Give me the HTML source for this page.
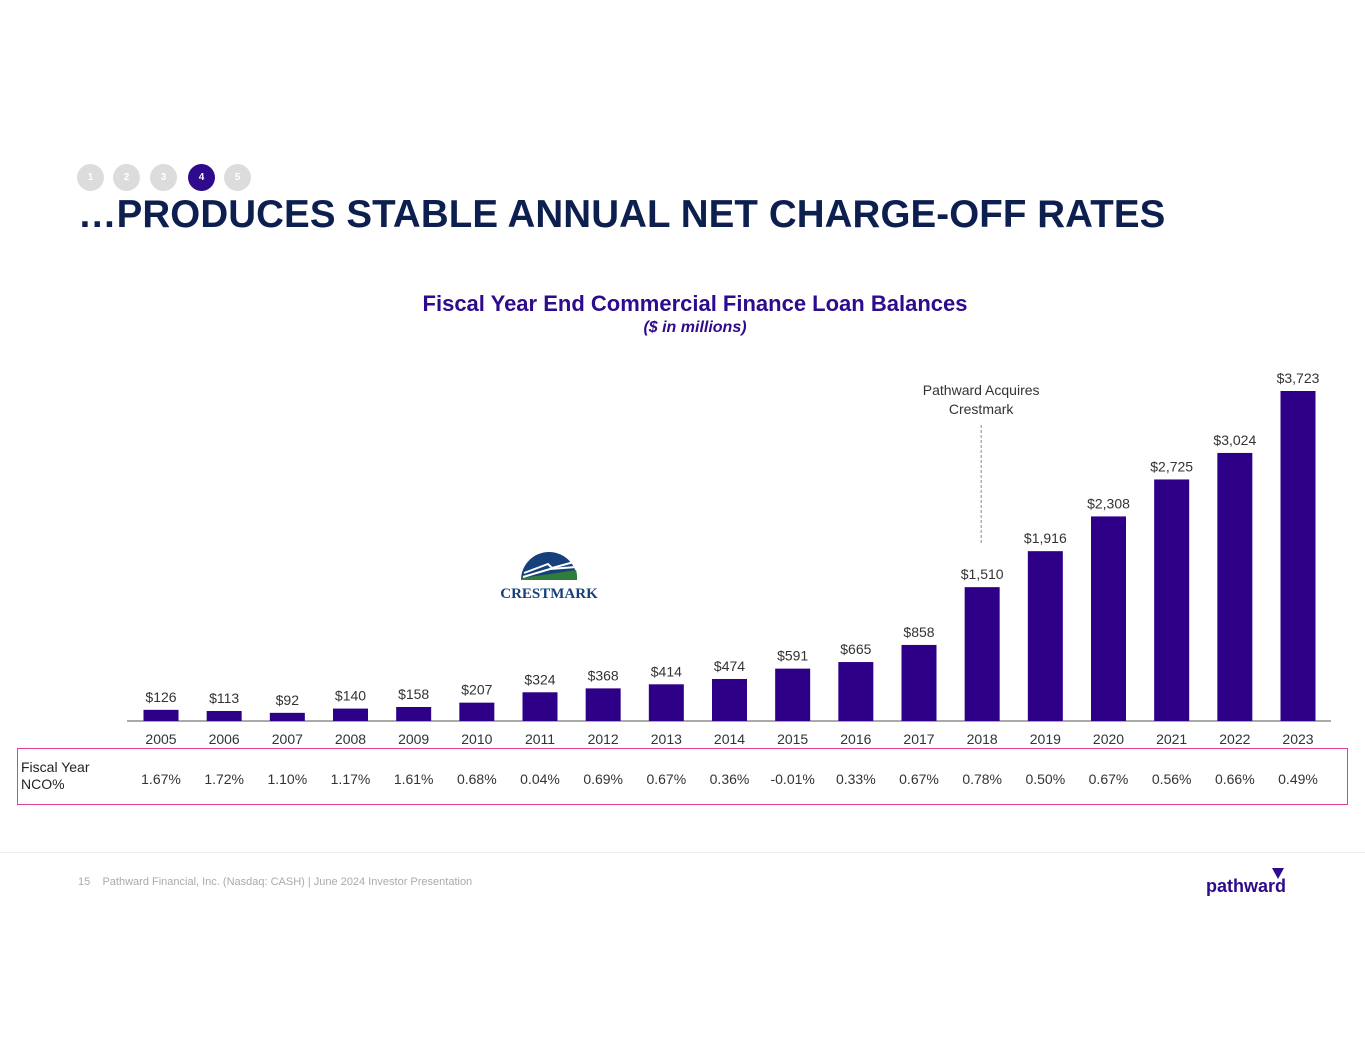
<!DOCTYPE html>
<html><head><meta charset="utf-8"><style>
body{margin:0;width:1365px;height:1055px;background:#fff;font-family:"Liberation Sans",sans-serif;position:relative;overflow:hidden}
.dot{position:absolute;top:164px;width:27px;height:27px;border-radius:50%;background:#dcdcdc;color:#fff;font-size:10px;font-weight:bold;text-align:center;line-height:27px}
</style></head><body>
<div class="dot" style="left:77px">1</div>
<div class="dot" style="left:113px">2</div>
<div class="dot" style="left:150px">3</div>
<div class="dot" style="left:188px;background:#2e0a8c">4</div>
<div class="dot" style="left:224px">5</div>
<div style="position:absolute;left:78px;top:193px;font-size:38.5px;font-weight:bold;color:#0c1f4f;letter-spacing:0.1px">…PRODUCES STABLE ANNUAL NET CHARGE-OFF RATES</div>
<div style="position:absolute;left:0;width:1390px;top:291px;text-align:center;font-size:22px;font-weight:bold;color:#2e0a8c">Fiscal Year End Commercial Finance Loan Balances</div>
<div style="position:absolute;left:0;width:1390px;top:319px;text-align:center;font-size:16px;font-weight:bold;font-style:italic;color:#2e0a8c">($ in millions)</div>
<svg style="position:absolute;left:490px;top:540px" width="120" height="62">
<path d="M31 40 A28 28 0 0 1 87 40 Z" fill="#173f7a"/>
<path d="M31 40 L87 40 A28 28 0 0 0 86 30 L60 34 L31 38Z" fill="#2f7d3a"/>
<path d="M34 33 L58 24 L62 28 L84 22" stroke="#fff" stroke-width="2" fill="none"/>
<path d="M33 37 L60 29 L86 27" stroke="#fff" stroke-width="2" fill="none"/>
<text x="59" y="58" text-anchor="middle" font-family="Liberation Serif" font-weight="bold" font-size="15" fill="#173f7a">CRESTMARK</text>
</svg>
<svg id="chart" style="position:absolute;left:0;top:0" width="1365" height="850"></svg>
<div style="position:absolute;left:17px;top:748px;width:1329px;height:55px;border:1px solid #e0409a"></div>
<div style="position:absolute;left:21px;top:759px;font-size:14px;color:#222;line-height:17px">Fiscal Year<br>NCO%</div>
<div style="position:absolute;left:0;top:852px;width:1365px;height:1px;background:#eee"></div>
<div style="position:absolute;left:78px;top:876px;font-size:11px;color:#aaa">15&nbsp;&nbsp;&nbsp; Pathward Financial, Inc. (Nasdaq: CASH) | June 2024 Investor Presentation</div>
<div style="position:absolute;left:1206px;top:876px;font-size:18px;font-weight:bold;color:#2e0a8c">pathward</div>
<svg style="position:absolute;left:1270px;top:866px" width="16" height="14"><path d="M2 2 L14 2 L8 13 Z" fill="#2e0a8c"/></svg>
<script>
const years=["2005","2006","2007","2008","2009","2010","2011","2012","2013","2014","2015","2016","2017","2018","2019","2020","2021","2022","2023"];
const balances=[126,113,92,140,158,207,324,368,414,474,591,665,858,1510,1916,2308,2725,3024,3723];
const nco=["1.67%","1.72%","1.10%","1.17%","1.61%","0.68%","0.04%","0.69%","0.67%","0.36%","-0.01%","0.33%","0.67%","0.78%","0.50%","0.67%","0.56%","0.66%","0.49%"];
const svg=document.getElementById('chart');const NS='http://www.w3.org/2000/svg';
const base=721,scale=330/3723,x0=161,step=(1298-161)/18,bw=35;
const x=i=>x0+i*step, y=v=>base-v*scale;
function mk(t,a){const e=document.createElementNS(NS,t);for(const k in a)e.setAttribute(k,a[k]);svg.appendChild(e);return e;}
const ax=mk('line',{x1:127,x2:1331,y1:base,y2:base,stroke:'#555','stroke-width':1});


balances.forEach((v,i)=>{
 const r=mk('rect',{x:x(i)-bw/2,y:y(v),width:bw,height:base-y(v),fill:'#2e0088'});
 
 
 const l=mk('text',{x:x(i),y:y(v)-8,'text-anchor':'middle','font-size':14,fill:'#333'});
 l.textContent='$'+v.toLocaleString('en-US');
 
 
 const t=mk('text',{x:x(i),y:744,'text-anchor':'middle','font-size':14,fill:'#333'});
 t.textContent=years[i];
 
 
 const n=mk('text',{x:x(i),y:784,'text-anchor':'middle','font-size':14,fill:'#333'});
 n.textContent=nco[i];
 
 
});
const xi=x(13)-1;
const d=mk('line',{x1:xi,x2:xi,y1:425,y2:543,stroke:'#888','stroke-dasharray':'3,2'});


[['Pathward Acquires',395],['Crestmark',414]].forEach(a=>{
 const t=mk('text',{x:xi,y:a[1],'text-anchor':'middle','font-size':14,fill:'#333'});
 t.textContent=a[0];
 
 
});
</script>
</body></html>
